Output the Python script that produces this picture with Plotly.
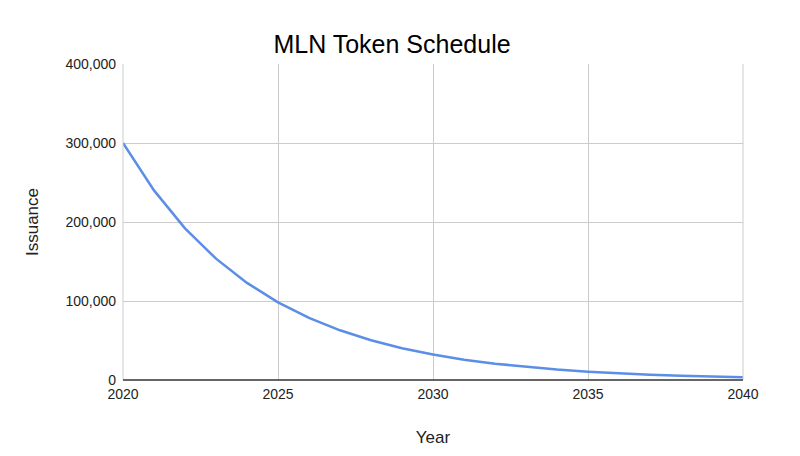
import plotly.graph_objects as go

years = list(range(2020, 2041))
issuance = [300000, 240000, 192000, 153600, 122880, 98304, 78643, 62915, 50332,
            40265, 32212, 25770, 20616, 16493, 13194, 10555, 8444, 6755, 5404,
            4323, 3459]
x_ticks = [2020, 2025, 2030, 2035, 2040]
y_ticks = [0, 100000, 200000, 300000, 400000]
y_labels = ["0", "100,000", "200,000", "300,000", "400,000"]

fig = go.Figure(go.Scatter(
    x=years, y=issuance, mode="lines",
    line=dict(color="#5b8ee6", width=2.5),
))

fig.update_layout(
    width=800, height=456,
    paper_bgcolor="white", plot_bgcolor="white",
    font=dict(family="Liberation Sans, Arial, sans-serif", color="#222", size=14),
    title=dict(text="MLN Token Schedule", x=0.48, xanchor="center", y=0.94,
               font=dict(size=25, color="#000")),
    margin=dict(l=115, r=65, t=56, b=84),
    showlegend=False,
    xaxis=dict(title=dict(text="Year", standoff=30), range=[2020, 2040],
               tickvals=x_ticks, showgrid=True, gridcolor="#cccccc",
               zeroline=False, showline=False, ticks="",
               ticklabelstandoff=4),
    yaxis=dict(title=dict(text="Issuance", standoff=22), range=[0, 400000],
               tickvals=y_ticks, ticktext=y_labels, showgrid=True,
               gridcolor="#cccccc", zeroline=False, ticks="",
               ticklabelstandoff=6),
)
fig.add_shape(type="line", xref="paper", yref="paper", x0=0, x1=0, y0=0, y1=1,
              line=dict(color="#cccccc", width=1))
fig.add_shape(type="line", xref="paper", yref="paper", x0=1, x1=1, y0=0, y1=1,
              line=dict(color="#cccccc", width=1))
fig.add_shape(type="line", xref="paper", yref="paper", x0=0, x1=1, y0=0, y1=0,
              line=dict(color="#333333", width=1.5))

fig.write_html("out.html")
